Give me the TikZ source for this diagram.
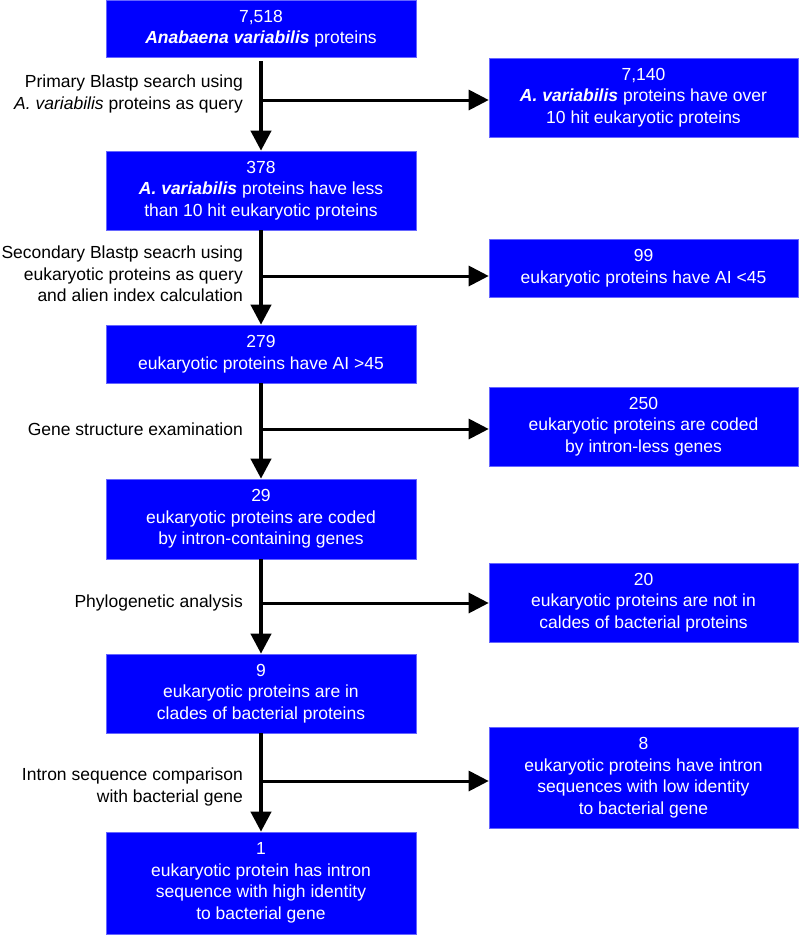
\documentclass[tikz,border=0pt]{standalone}
\usepackage{fontspec}
\setmainfont{Liberation Sans}
\usetikzlibrary{calc}
\usetikzlibrary{arrows.meta}

\tikzset{
  countbox/.style={fill=blue, draw=blue!60!white, line width=0.6pt, text=white,
    align=center, inner sep=0pt, font=\fontsize{17.5}{21.5}\selectfont},
  leftbox/.style={countbox, minimum width=310pt},
  rightbox/.style={countbox, minimum width=309pt},
  steplabel/.style={anchor=east, align=right, inner sep=0pt, font=\fontsize{17.5}{21.5}\selectfont},
  mainflow/.style={line width=4pt, -{Triangle[width=20pt,length=20pt]}},
  sideflow/.style={line width=3pt, -{Triangle[width=20pt,length=20pt]}}
}

\newcommand{\av}{\textbf{\textit{A. variabilis}}}

\begin{document}
\begin{tikzpicture}[x=1pt,y=-1pt]
  \useasboundingbox (0,0) rectangle (799,935);

  % main column
  \node[leftbox, minimum height=57pt] (all) at (261,28.5)
    {7,518\\\textbf{\textit{Anabaena variabilis}} proteins};
  \node[leftbox, minimum height=79pt] (few) at (261,190.5)
    {378\\\av{} proteins have less\\than 10 hit eukaryotic proteins};
  \node[leftbox, minimum height=58pt] (highai) at (261,354)
    {279\\eukaryotic proteins have AI >45};
  \node[leftbox, minimum height=80pt] (intron) at (261,519)
    {29\\eukaryotic proteins are coded\\by intron-containing genes};
  \node[leftbox, minimum height=79pt] (clade) at (261,693.5)
    {9\\eukaryotic proteins are in\\clades of bacterial proteins};
  \node[leftbox, minimum height=102pt] (final) at (261,883)
    {1\\eukaryotic protein has intron\\sequence with high identity\\to bacterial gene};

  % discarded sets
  \node[rightbox, minimum height=79pt] (many) at (643.5,97.5)
    {7,140\\\av{} proteins have over\\10 hit eukaryotic proteins};
  \node[rightbox, minimum height=58pt] (lowai) at (643.5,268)
    {99\\eukaryotic proteins have AI <45};
  \node[rightbox, minimum height=79pt] (nointron) at (643.5,426.5)
    {250\\eukaryotic proteins are coded\\by intron-less genes};
  \node[rightbox, minimum height=79pt] (noclade) at (643.5,602.5)
    {20\\eukaryotic proteins are not in\\caldes of bacterial proteins};
  \node[rightbox, minimum height=101pt] (lowid) at (643.5,777.5)
    {8\\eukaryotic proteins have intron\\sequences with low identity\\to bacterial gene};

  \draw[mainflow] ($ (all.south)+(0,4) $) -- (few.north);
  \draw[mainflow] (few.south) -- (highai.north);
  \draw[mainflow] (highai.south) -- (intron.north);
  \draw[mainflow] (intron.south) -- (clade.north);
  \draw[mainflow] (clade.south) -- (final.north);

  \coordinate (j1) at (261,100);
  \coordinate (j2) at (261,276);
  \coordinate (j3) at (261,429);
  \coordinate (j4) at (261,603);
  \coordinate (j5) at (261,781);

  \draw[sideflow] (j1) -- (j1 -| many.west);
  \draw[sideflow] (j2) -- (j2 -| lowai.west);
  \draw[sideflow] (j3) -- (j3 -| nointron.west);
  \draw[sideflow] (j4) -- (j4 -| noclade.west);
  \draw[sideflow] (j5) -- (j5 -| lowid.west);

  \node[steplabel] (search1) at (243,94)
    {Primary Blastp search using\\\textit{A. variabilis} proteins as query};
  \node[steplabel] (search2) at (243,274)
    {Secondary Blastp seacrh using\\eukaryotic proteins as query\\and alien index calculation};
  \node[steplabel] (genestr) at (243,429) {Gene structure examination};
  \node[steplabel] (phylo) at (243,603) {Phylogenetic analysis};
  \node[steplabel] (compare) at (243,787)
    {Intron sequence comparison\\with bacterial gene};

\end{tikzpicture}
\end{document}
